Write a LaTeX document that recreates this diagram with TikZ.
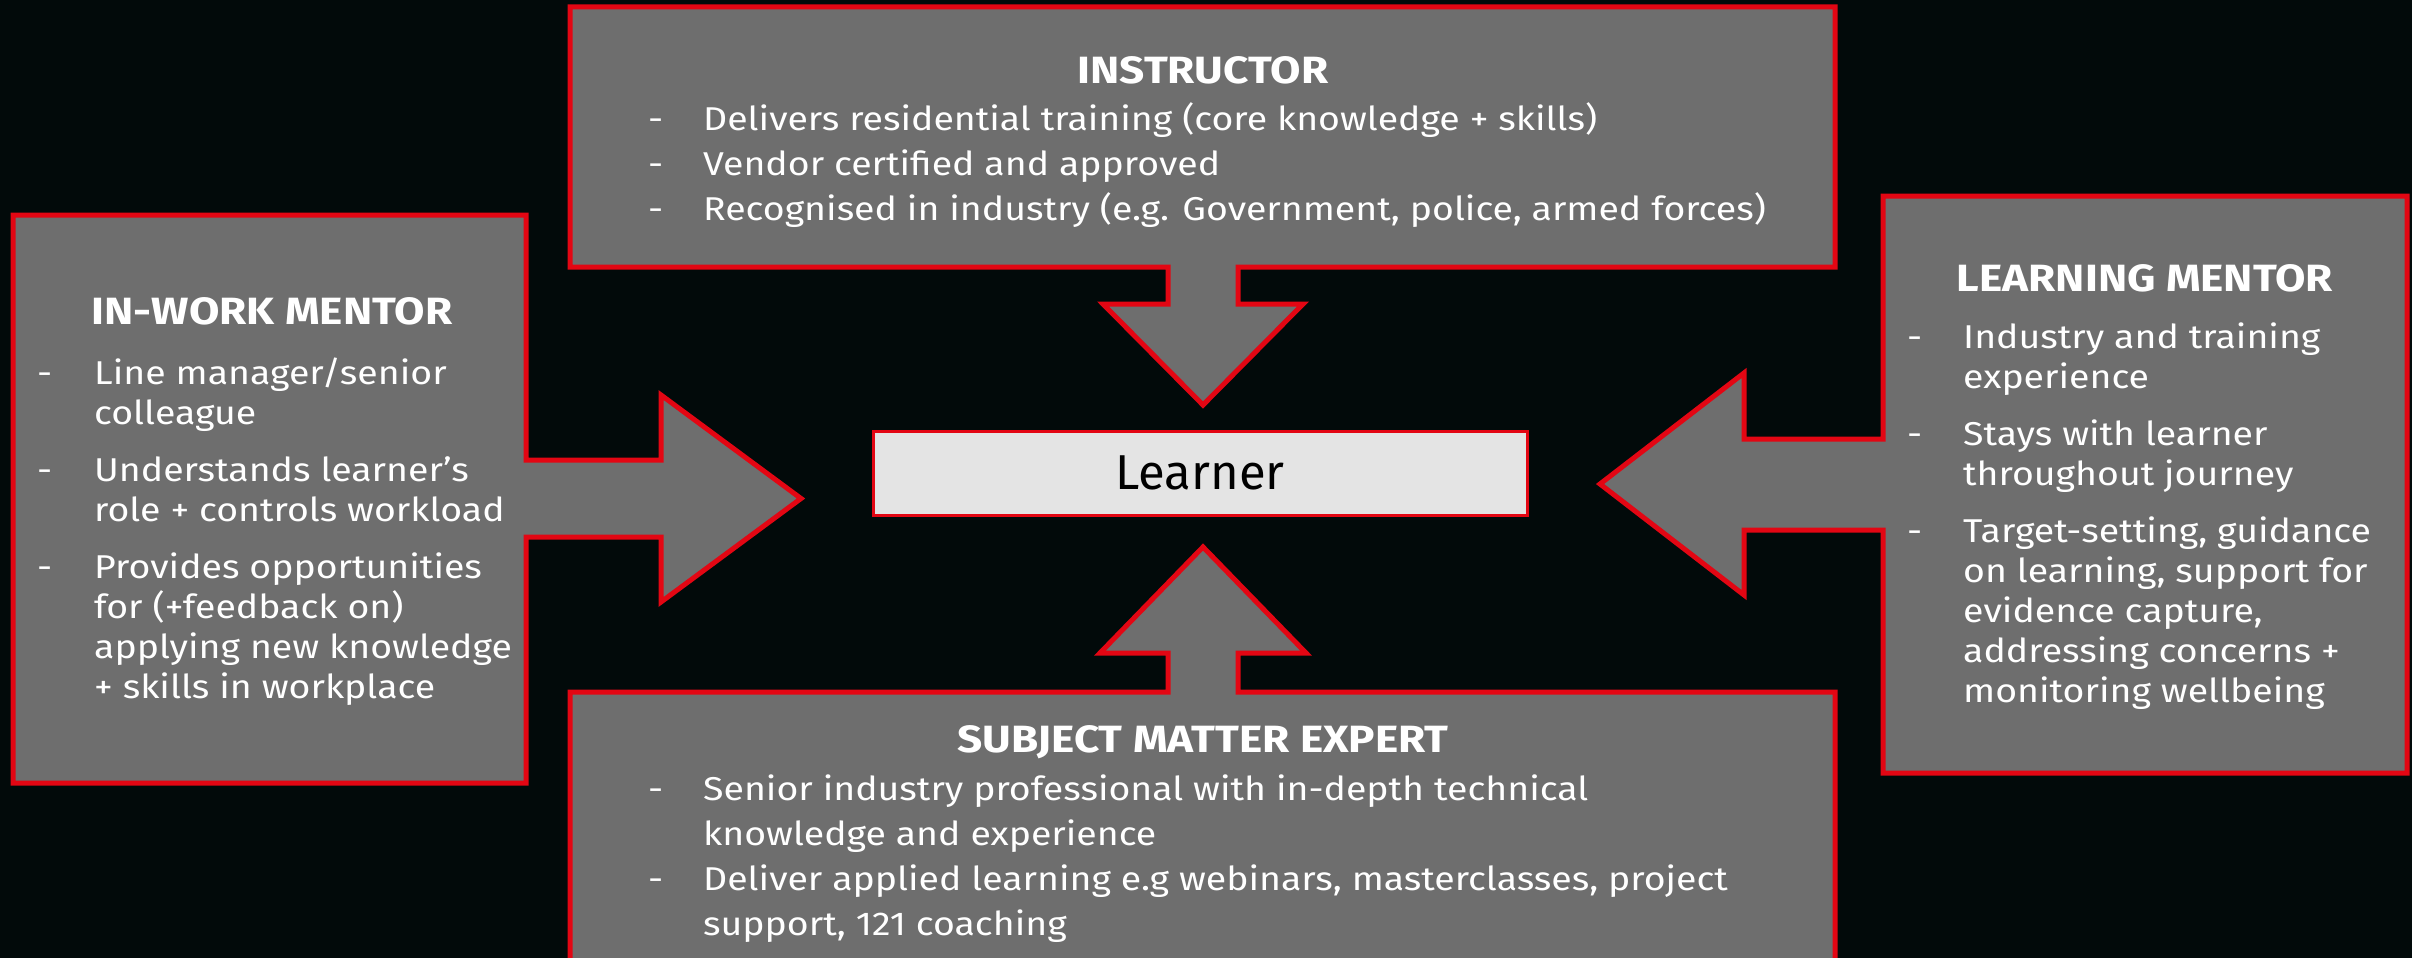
\documentclass[tikz,border=0pt]{standalone}
\usepackage{fontspec}
\setmainfont{Fira Sans}
\newfontfamily\panelfont{Fira Sans}[FakeStretch=1.135]
\newfontfamily\paneltitlefont{Fira Sans}[FakeStretch=1.16]
\definecolor{bg}{RGB}{2,10,10}
\definecolor{boxgrey}{RGB}{110,110,110}
\definecolor{bred}{RGB}{227,6,19}
\definecolor{lfill}{RGB}{228,228,228}
\tikzset{
  panel/.style={fill=boxgrey, draw=bred, line width=5pt, line join=miter},
  paneltitle/.style={text=white, font=\paneltitlefont\fontsize{38}{40}\selectfont\bfseries, anchor=base, inner sep=0pt},
  bodywide/.style={text=white, anchor=base west, inner sep=0pt, align=left, font=\panelfont\fontsize{33}{45}\selectfont},
  bodyside/.style={text=white, anchor=base west, inner sep=0pt, align=left, font=\panelfont\fontsize{33}{40}\selectfont},
  learnerbox/.style={draw=bred, fill=lfill, line width=3pt, minimum width=654pt, minimum height=84pt, inner sep=0pt, text=black, font=\fontsize{49}{50}\selectfont},
}
\begin{document}
\begin{tikzpicture}[x=1pt,y=-1pt]
\useasboundingbox (0,0) rectangle (2412,958);
\fill[bg] (0,0) rectangle (2412,958);
\clip (0,0) rectangle (2412,958);

% Instructor panel with down arrow
\draw[panel] (570,7) -- (1835,7) -- (1835,267) -- (1238,267) -- (1238,304) -- (1303,304)
  -- (1203,405) -- (1103,304) -- (1168,304) -- (1168,267) -- (570,267) -- cycle;
% Subject matter expert panel with up arrow
\draw[panel] (570,975) -- (570,692) -- (1168,692) -- (1168,653) -- (1100,653) -- (1203,547)
  -- (1306,653) -- (1238,653) -- (1238,692) -- (1835,692) -- (1835,975) -- cycle;
% In-work mentor panel with right arrow
\draw[panel] (13,215) -- (526,215) -- (526,460) -- (661,460) -- (661,395) -- (801,498.5)
  -- (661,602) -- (661,537) -- (526,537) -- (526,783) -- (13,783) -- cycle;
% Learning mentor panel with left arrow
\draw[panel] (1883,196) -- (2407,196) -- (2407,773) -- (1883,773) -- (1883,530) -- (1744,530)
  -- (1744,595) -- (1600,484) -- (1744,373) -- (1744,439) -- (1883,439) -- cycle;

\node[learnerbox] (learner) at (1200,473) {Learner};

% Instructor text
\node[paneltitle] (instrTitle) at (1203,83) {INSTRUCTOR};
\node[bodywide] (instrText) at (648,130) {\begin{tabular}[t]{@{}p{55pt}@{}l@{}}
- & Delivers residential training (core knowledge + skills)\\
- & Vendor certified and approved\\
- & Recognised in industry (e.g. Government, police, armed forces)
\end{tabular}};

% Subject matter expert text
\node[paneltitle] (smeTitle) at (1203,752) {SUBJECT MATTER EXPERT};
\node[bodywide] (smeText) at (648,800) {\begin{tabular}[t]{@{}p{55pt}@{}l@{}}
- & Senior industry professional with in-depth technical\\
  & knowledge and experience\\
- & Deliver applied learning e.g webinars, masterclasses, project\\
  & support, 121 coaching
\end{tabular}};

% In-work mentor text
\node[paneltitle] (iwmTitle) at (272,324) {IN-WORK MENTOR};
\node[bodyside] (iwmText) at (37,384) {\begin{tabular}[t]{@{}p{57pt}@{}l@{}}
- & Line manager/senior\\
  & colleague\\[17pt]
- & Understands learner’s\\
  & role + controls workload\\[17pt]
- & Provides opportunities\\
  & for (+feedback on)\\
  & applying new knowledge\\
  & + skills in workplace
\end{tabular}};

% Learning mentor text
\node[paneltitle] (lmTitle) at (2145,291) {LEARNING MENTOR};
\node[bodyside] (lmText) at (1907,348) {\begin{tabular}[t]{@{}p{56pt}@{}l@{}}
- & Industry and training\\
  & experience\\[17pt]
- & Stays with learner\\
  & throughout journey\\[17pt]
- & Target-setting, guidance\\
  & on learning, support for\\
  & evidence capture,\\
  & addressing concerns +\\
  & monitoring wellbeing
\end{tabular}};
\end{tikzpicture}
\end{document}
